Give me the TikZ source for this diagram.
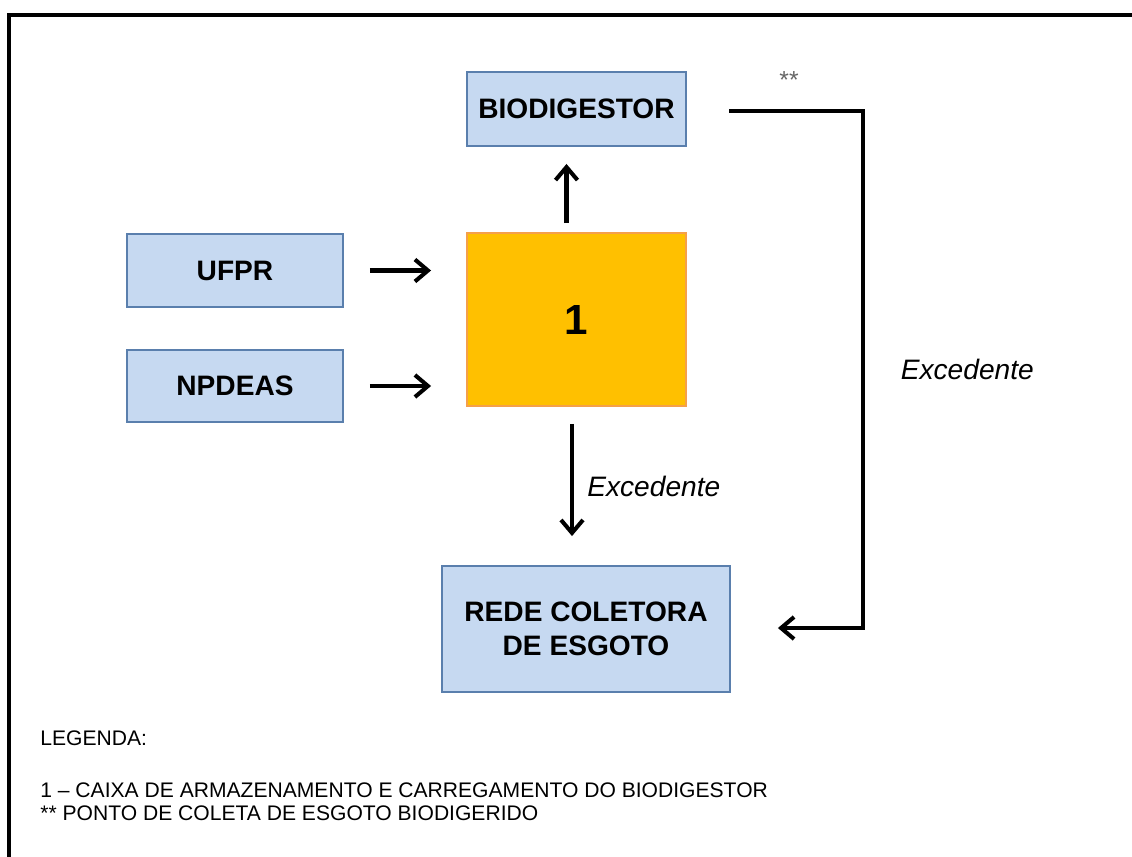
\documentclass[tikz,border=0pt]{standalone}
\usepackage{fontspec}
\setmainfont{Liberation Sans}
\usetikzlibrary{arrows.meta}
\definecolor{azulclaro}{HTML}{C6D9F1}
\definecolor{azulborda}{HTML}{5A7FAD}
\definecolor{laranja}{HTML}{FFC000}
\definecolor{laranjaborda}{HTML}{F5A04A}
\begin{document}
\begin{tikzpicture}[x=0.02cm,y=-0.02cm,
  bloco/.style={draw=azulborda,fill=azulclaro,line width=1.1pt,inner sep=0pt,
    align=center,font=\fontsize{16}{19}\selectfont\bfseries},
  seta/.style={line width=2.3pt,-{Straight Barb[length=2.6mm,width=4.4mm]}},
  rotulo/.style={font=\fontsize{16}{19}\selectfont\itshape},
  legenda/.style={anchor=west,inner sep=0pt,font=\fontsize{12}{14}\selectfont}]
\useasboundingbox (0,0) rectangle (1132,856);
\fill[white] (0,0) rectangle (1132,856);
\draw[line width=2.3pt] (9,870) -- (9,15) -- (1145,15);
\coordinate (ponto) at (729,111);
\coordinate (canto) at (863,628);
\node[bloco,minimum width=4.38cm,minimum height=1.48cm] (biodig) at (576.5,109) {BIODIGESTOR};
\node[bloco,minimum width=4.32cm,minimum height=1.46cm] (ufpr) at (235,270.5) {UFPR};
\node[bloco,minimum width=4.32cm,minimum height=1.44cm] (npdeas) at (235,386) {NPDEAS};
\node[bloco,draw=laranjaborda,fill=laranja,minimum width=4.38cm,minimum height=3.46cm,
  font=\fontsize{24}{28}\selectfont\bfseries] (caixa1) at (576.5,319.5) {1};
\node[bloco,minimum width=5.76cm,minimum height=2.52cm] (rede) at (586,629) {REDE COLETORA\\DE ESGOTO};
\node[text=black!60,font=\fontsize{14}{16}\selectfont] (estrelas) at (789,80) {**};
% entradas
\draw[seta,shorten <=0.52cm,shorten >=0.7cm] (ufpr.east) -- (ufpr.east -| caixa1.west);
\draw[seta,shorten <=0.52cm,shorten >=0.7cm] (npdeas.east) -- (npdeas.east -| caixa1.west);
\draw[seta,shorten <=0.18cm,shorten >=0.34cm] ([xshift=-0.2cm]caixa1.north) -- ([xshift=-0.2cm]caixa1.north |- biodig.south);
\draw[seta,shorten <=0.34cm,shorten >=0.58cm] ([xshift=-0.09cm]caixa1.south) -- ([xshift=-0.09cm]caixa1.south |- rede.north)
  node[rotulo,midway,right=0.15cm] (exc1) {Excedente};
\draw[seta,shorten >=0.94cm] (ponto) -- (ponto -| canto) -- node[rotulo,right=0.6cm] (exc2) {Excedente} (canto) -- (rede.east |- canto);
% legenda
\node[legenda] (leg) at (40,738) {LEGENDA:};
\node[legenda] (leg1) at (40,790) {1 -- CAIXA DE ARMAZENAMENTO E CARREGAMENTO DO BIODIGESTOR};
\node[legenda] (leg2) at (40,813) {** PONTO DE COLETA DE ESGOTO BIODIGERIDO};
\end{tikzpicture}
\end{document}
